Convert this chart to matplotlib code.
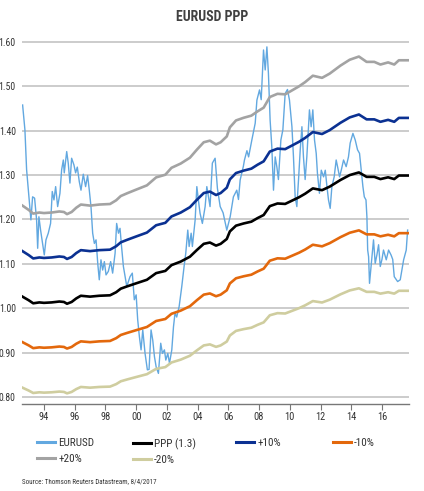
import matplotlib
matplotlib.use("Agg")
import matplotlib.pyplot as plt
from matplotlib.lines import Line2D
import numpy as np

plt.rcParams['font.family'] = ['Roboto Condensed', 'Liberation Sans']

# EURUSD spot
eur_t = [1992.61, 1992.76, 1992.87, 1993.04, 1993.15, 1993.26, 1993.39, 1993.52, 1993.59, 1993.67,
         1993.78, 1993.91, 1994.02, 1994.13, 1994.28, 1994.43, 1994.54, 1994.65, 1994.76, 1994.89,
         1995.04, 1995.15, 1995.26, 1995.32, 1995.48, 1995.58, 1995.69, 1995.80, 1995.95, 1996.06,
         1996.17, 1996.30, 1996.41, 1996.56, 1996.71, 1996.84, 1996.95, 1997.06, 1997.17, 1997.28,
         1997.39, 1997.50, 1997.60, 1997.71, 1997.82, 1997.93, 1998.04, 1998.19, 1998.34, 1998.47,
         1998.63, 1998.73, 1998.85, 1998.95, 1999.05, 1999.17, 1999.39, 1999.60, 1999.75, 1999.88,
         2000.00, 2000.10, 2000.21, 2000.32, 2000.43, 2000.58, 2000.73, 2000.84, 2000.97, 2001.08,
         2001.19, 2001.30, 2001.45, 2001.60, 2001.71, 2001.84, 2001.93, 2002.06, 2002.17, 2002.32,
         2002.43, 2002.53, 2002.64, 2002.80, 2002.97, 2003.12, 2003.23, 2003.36, 2003.45, 2003.58,
         2003.66, 2003.84, 2003.95, 2004.05, 2004.16, 2004.31, 2004.49, 2004.60, 2004.81, 2004.96,
         2005.14, 2005.29, 2005.47, 2005.66, 2005.90, 2006.12, 2006.33, 2006.55, 2006.66, 2006.77,
         2006.98, 2007.05, 2007.21, 2007.32, 2007.53, 2007.75, 2007.86, 2008.03, 2008.14, 2008.29,
         2008.40, 2008.51, 2008.61, 2008.72, 2008.83, 2008.94, 2009.05, 2009.16, 2009.26, 2009.42,
         2009.55, 2009.70, 2009.85, 2009.98, 2010.14, 2010.24, 2010.35, 2010.46, 2010.57, 2010.68,
         2010.79, 2010.89, 2011.00, 2011.11, 2011.28, 2011.39, 2011.50, 2011.61, 2011.72, 2011.80,
         2011.93, 2012.05, 2012.20, 2012.31, 2012.42, 2012.52, 2012.63, 2012.74, 2012.89, 2013.02,
         2013.11, 2013.24, 2013.35, 2013.50, 2013.67, 2013.82, 2013.93, 2014.11, 2014.26, 2014.41,
         2014.54, 2014.63, 2014.76, 2014.85, 2014.96, 2015.02, 2015.07, 2015.13, 2015.19, 2015.35,
         2015.45, 2015.56, 2015.67, 2015.78, 2015.89, 2016.00, 2016.10, 2016.28, 2016.43, 2016.59,
         2016.70, 2016.80, 2017.02, 2017.19, 2017.41, 2017.58, 2017.67]
eur_v = [1.458, 1.402, 1.312, 1.244, 1.199, 1.251, 1.248, 1.199, 1.135, 1.206,
         1.176, 1.146, 1.120, 1.154, 1.169, 1.191, 1.263, 1.244, 1.274, 1.229,
         1.259, 1.312, 1.334, 1.305, 1.353, 1.327, 1.282, 1.338, 1.323, 1.305,
         1.318, 1.285, 1.266, 1.302, 1.274, 1.299, 1.266, 1.229, 1.169, 1.146,
         1.154, 1.101, 1.064, 1.109, 1.086, 1.105, 1.075, 1.083, 1.105, 1.079,
         1.124, 1.191, 1.169, 1.180, 1.139, 1.094, 1.049, 1.071, 1.079, 1.019,
         1.030, 0.974, 0.936, 0.906, 0.951, 0.898, 0.861, 0.862, 0.951, 0.928,
         0.891, 0.868, 0.853, 0.921, 0.898, 0.906, 0.883, 0.898, 0.876, 0.906,
         0.958, 0.989, 0.980, 1.004, 1.049, 1.094, 1.124, 1.176, 1.139, 1.169,
         1.139, 1.199, 1.274, 1.244, 1.214, 1.191, 1.229, 1.274, 1.229, 1.327,
         1.338, 1.270, 1.229, 1.215, 1.176, 1.206, 1.251, 1.266, 1.245, 1.289,
         1.320, 1.334, 1.355, 1.341, 1.379, 1.417, 1.469, 1.492, 1.470, 1.582,
         1.537, 1.589, 1.529, 1.424, 1.364, 1.266, 1.341, 1.318, 1.290, 1.379,
         1.402, 1.484, 1.493, 1.469, 1.409, 1.341, 1.251, 1.229, 1.290, 1.357,
         1.409, 1.341, 1.290, 1.341, 1.447, 1.409, 1.447, 1.379, 1.349, 1.304,
         1.259, 1.311, 1.296, 1.311, 1.274, 1.244, 1.225, 1.274, 1.296, 1.334,
         1.319, 1.296, 1.311, 1.334, 1.319, 1.341, 1.372, 1.394, 1.379, 1.357,
         1.349, 1.319, 1.274, 1.251, 1.244, 1.206, 1.131, 1.116, 1.056, 1.116,
         1.154, 1.101, 1.120, 1.143, 1.094, 1.110, 1.131, 1.109, 1.131, 1.120,
         1.110, 1.071, 1.060, 1.064, 1.109, 1.131, 1.176]

# PPP fair value
ppp_t = [1992.60, 1993.00, 1993.30, 1993.70, 1994.00, 1994.50, 1995.00, 1995.30, 1995.50, 1995.80,
         1996.10, 1996.40, 1997.00, 1997.60, 1998.30, 1998.70, 1999.00, 1999.40, 2000.00, 2000.70,
         2001.30, 2001.90, 2002.30, 2002.90, 2003.50, 2003.95, 2004.40, 2004.80, 2005.20, 2005.50,
         2005.90, 2006.10, 2006.50, 2007.00, 2007.50, 2007.90, 2008.30, 2008.70, 2009.20, 2009.70,
         2010.00, 2010.60, 2011.00, 2011.50, 2012.10, 2012.60, 2013.30, 2013.90, 2014.50, 2015.00,
         2015.50, 2015.90, 2016.40, 2016.80, 2017.10, 2017.75]
ppp_v = [1.026, 1.018, 1.011, 1.013, 1.012, 1.013, 1.015, 1.014, 1.010, 1.014,
         1.022, 1.028, 1.026, 1.028, 1.029, 1.036, 1.044, 1.049, 1.056, 1.064,
         1.079, 1.084, 1.097, 1.105, 1.116, 1.131, 1.145, 1.148, 1.141, 1.145,
         1.156, 1.173, 1.186, 1.191, 1.195, 1.203, 1.210, 1.230, 1.236, 1.235,
         1.240, 1.250, 1.258, 1.270, 1.266, 1.274, 1.289, 1.300, 1.306, 1.296,
         1.296, 1.291, 1.295, 1.291, 1.299, 1.299]

# bands around PPP, as labelled in the legend
band_labels = ['+10%', '-10%', '+20%', '-20%']
band_pct = [0.10, -0.10, 0.20, -0.20]
band_colors = ['#0b3192', '#e3680c', '#a3a3a3', '#cfcd9f']

tick_years = [1994, 1996, 1998, 2000, 2002, 2004, 2006, 2008, 2010, 2012, 2014, 2016]
tick_labels = ['94', '96', '98', '00', '02', '04', '06', '08', '10', '12', '14', '16']
y_ticks = [0.80, 0.90, 1.00, 1.10, 1.20, 1.30, 1.40, 1.50, 1.60]

fig = plt.figure(figsize=(4.24, 4.91), dpi=100)
ax = fig.add_axes([22/424, 1-404/491, 387/424, 364/491])

ax.plot(eur_t, eur_v, color='#62a8e0', lw=1.0, zorder=2)
for lab, pct, col in zip(band_labels, band_pct, band_colors):
    ax.plot(ppp_t, np.array(ppp_v) * (1 + pct), color=col, lw=1.9, zorder=3)
ax.plot(ppp_t, ppp_v, color='black', lw=1.9, zorder=4)

ax.set_xlim(1992.57, 2017.76)
ax.set_ylim(0.784, 1.6045)
ax.set_yticks(y_ticks)
ax.set_yticklabels(['%.2f' % v for v in y_ticks])
ax.set_xticks(tick_years)
ax.set_xticklabels(tick_labels)
ax.yaxis.grid(True, color='#c4c4c4', lw=1.2, zorder=0)
ax.set_axisbelow(True)
for s in ['left', 'right', 'top']:
    ax.spines[s].set_visible(False)
ax.spines['bottom'].set_color('#777777')
ax.spines['bottom'].set_linewidth(1.0)
ax.tick_params(axis='y', length=0, pad=4.5, labelsize=7, labelcolor='#333333')
ax.tick_params(axis='x', direction='out', length=4, width=0.8, color='#777777',
               pad=2, labelsize=7.5, labelcolor='#333333')

fig.text(0.5, 1-17/491, 'EURUSD PPP', ha='center', va='center', fontsize=10,
         fontweight='bold', color='#404040')

# legend: four fixed columns
entries = [('EURUSD', '#62a8e0', 37), ('PPP (1.3)', 'black', 133),
           ('+10%', '#0b3192', 236), ('-10%', '#e3680c', 333),
           ('+20%', '#a3a3a3', 37), ('-20%', '#cfcd9f', 133)]
cols = {}
for lab, col, xpos in entries:
    cols.setdefault(xpos, []).append((lab, col))
for xpos, items in cols.items():
    hs = [Line2D([], [], color=c, lw=2.2) for _, c in items]
    fig.legend(hs, [l for l, _ in items], loc='upper left',
               bbox_to_anchor=(xpos/424, 1-438/491), frameon=False,
               fontsize=8, handlelength=1.6, handletextpad=0.3, labelspacing=0.5,
               borderpad=0, borderaxespad=0, labelcolor='#333333')

fig.text(22/424, 1-482/491, 'Source: Thomson Reuters Datastream, 8/4/2017', fontsize=5,
         color='#333333', va='center')

fig.savefig('out.png', dpi=100)
